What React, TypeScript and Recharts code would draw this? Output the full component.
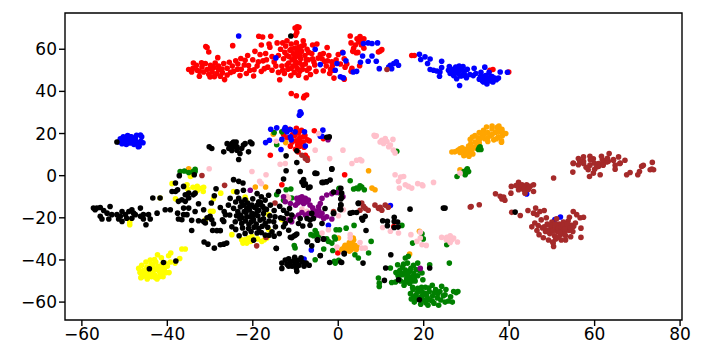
import { ScatterChart, Scatter, XAxis, YAxis, ReferenceArea } from 'recharts';

type Pair = [number, number];

const xTicks = [-60, -40, -20, 0, 20, 40, 60, 80];
const yTicks = [-60, -40, -20, 0, 20, 40, 60];

const redPoints: Pair[] = [
  [-35,50.4],[-34.3,49.2],[-33.9,53.5],[-33.2,52.4],[-32.5,47.2],[-31.9,51.6],[-31.5,49.2],[-31.1,53.2],[-30.7,50.4],[-30.3,48.1],
  [-29.9,52.4],[-29.5,49.2],[-29.1,51.3],[-28.8,53.5],[-28.4,48.5],[-28,50.4],[-27.6,47.2],[-26.8,53.2],[-26.6,45.6],[-27.1,48.8],
  [-28.2,56],[-30.7,60.8],[-30.3,58.7],[-31,61.3],[-24.7,61.7],[-26,51],[-25.2,49],[-24.8,52],[-24,54.5],[-23.6,50.5],[-23,47.5],
  [-22.8,55.6],[-22,52.5],[-21.5,48.5],[-21.2,57],[-20.7,50],[-20,55],[-19.8,47.3],[-19.5,59],[-19,52],[-18.3,57.5],[-18,49.5],
  [-17.6,54.5],[-17,58],[-16.5,51.5],[-18.6,66.2],[-18,62],[-17.7,65.8],[-15.8,66.2],[-16.2,62.5],[-16,61],[-15.5,50],[-15,54],
  [-14.6,52],[-14,49],[-14,57],[-13.5,60],[-13,63],[-13.7,45.5],[-14.3,63],[-13.2,52],[-12.8,55.5],[-12.6,48.5],[-12.5,58.5],
  [-12.3,61.5],[-12,64],[-11.8,50.5],[-11.6,53.5],[-11.5,56.5],[-11.3,59.5],[-11.1,47.5],[-11,62.5],[-10.8,55],[-10.6,52],
  [-10.5,58],[-10.3,49],[-10.2,60.5],[-10,54],[-9.9,56.5],[-9.8,63],[-9.6,51],[-9.5,58.5],[-9.3,47.7],[-9.2,61],[-9,53.5],
  [-8.8,55.5],[-8.6,59],[-8.4,50.5],[-8.2,64],[-8,62],[-7.8,57],[-7.7,53],[-7.5,46.5],[-7.3,60],[-7,55],[-6.8,51],[-6.5,48],
  [-6.2,58],[-6,62],[-5.7,54],[-5.2,49.5],[-5,62.5],[-9.6,70.6],[-10.1,70.1],[-9.2,70.4],[-10,66.6],[-9.7,68],
  [-4.2,57.5],[-3.8,55.5],[-3.5,58],[-3.2,54.3],[-2.8,52],[-2.6,60.8],[-2.2,57],[-2,48.5],[-1.8,50.5],[-1.4,52],[-1.2,50],
  [-1,46.3],[-0.5,55],[0,57.5],[0.5,53],[1,58.5],[1.4,55.5],[1.6,51.5],[1.4,45.8],[2,53],[3,49.5],[3.2,51],
  [2.8,66.3],[3,63],[3.6,60.5],[4,62],[4.4,65],[4.8,63.5],[5.1,66],[5.5,64],[6,65],[5.4,62],[4.6,58.5],[3.4,59],[4.2,58.3],
  [6,60.5],[5,52.2],[9.4,58.7],[10.2,59.8],[9.8,59.2],[17.2,57],[17.8,57],[35.5,50],[36.2,50.4],[39.9,49.2],
  [-11,39],[-9.8,37.9],[-8.1,37],[-7.4,38.3],[-7.9,37.8],[-15.9,9.7],[-5.6,21.3],[-3.5,17.6],[-7.7,9.7],[-7.3,8.5],
  [-12.8,19.5],[-12,18],[-11.4,22],[-10.8,16],[-10.2,19],[-9.8,22.5],[-9.5,14.5],[-9,18],[-8.6,21.5],[-8.2,16],[-7.8,19],
  [-7.2,17],[-6.8,16.5],[-10,12.5],[-9.4,11.2],[-11.2,14],[-9,14],[-8,13.5],[-12.5,21],[1.5,0.4],[-13.2,-4.3],[-0.1,-36.7],[13,-24.2],
];

const redCore: Pair[] = [
  [-34,51],[-33,50],[-32.5,49.5],[-32,53.6],[-30,50.8],[-30,46.8],[-29,47],[-28,52],[-27.2,50.6],[-26,47.8],[-25.5,53.8],
  [-24.5,49.5],[-23.5,53],[-22.7,50.5],[-21.8,54.8],[-21,52.3],[-19.7,50.3],[-18.7,54],[-17.3,50.8],[-16.8,55],[-15.5,56.5],
  [-13,50],[-12,52.5],[-12,57],[-11,51],[-11,60],[-10.2,56],[-10,52.3],[-9.5,60],[-9,49.5],[-9,57],[-8.4,52.5],[-8.5,61.5],
  [-7.5,55],[-7.3,50],[-6.9,58.5],[-6,55.5],[-5.5,52.5],[-4.7,55.8],[-2.5,54.5],[-1.5,54],[-3.5,49.8],[-10.7,19.5],[-9.8,16.5],[-9.3,20.3],[-8.8,16],[-8.2,18.5],
];

const orangePoints: Pair[] = [
  [26.6,11.2],[27.3,11.3],[28,12],[28.5,11],[29,13.2],[29.4,9.5],[30,12.5],[30.2,10.5],[30.6,9.2],[31,12],[31.5,10.3],[31.7,13.5],
  [28.5,12.8],[29.7,11.4],[30.5,14],[31,15],[30.9,17.2],[31.4,18.3],[32,16],[32.5,14.7],[32.7,18],[33,20.5],[33,15.5],[33.7,19],
  [34,21.5],[34.3,17.5],[34.7,23.1],[35,20.5],[35,16.2],[35.6,19],[36,22.2],[36,23.5],[36.4,17],[36.8,20.5],[37.2,23],[37.5,18.5],
  [37.8,21],[37.6,23.5],[38.2,16.5],[38.3,22],[38.4,19],[38.5,20.5],[39.2,20],[38.2,15.9],[33.5,18],[32.2,13],
  [-35,3.3],[-19.4,-5.4],[-17,-5.4],[-15.2,19.7],[-12.3,15.7],[7.1,2.3],[7.9,-5.9],[8.6,-6.7],[16.7,-37.2],[28.5,2.8],[19,-26.4],
  [0.8,-35],[1.4,-34],[1.8,-35.5],[2.2,-33],[2.6,-35.8],[3,-32],[3.2,-34.5],[3.6,-30.5],[3.9,-33],[4.2,-35],[4.5,-34],[2.6,-31.8],[3.5,-29.6],[0.05,-29.6],
  [29.3,12],[31,13.5],[32,19],[33,17],[34.2,19.8],[35,18],[36,19.5],[37,17.5],[37.4,22],[31.2,11.5],[29.8,10],[2.5,-34],[3.4,-32.7],[1.6,-33],[3,-35.2],
];

const yellowPoints: Pair[] = [
  [-46.7,-44],[-46.4,-46],[-46.2,-48.4],[-46,-42.5],[-45.6,-45],[-45.4,-47],[-45,-41],[-44.8,-43.5],[-44.7,-49],[-44.3,-46.5],
  [-44,-40],[-43.8,-42],[-43.7,-48],[-43.3,-44.5],[-43,-47],[-42.7,-41],[-42.4,-49],[-42.2,-43],[-42,-45],[-41.7,-46.5],[-41.4,-39],
  [-41.2,-42],[-41,-48],[-40.7,-44],[-40.3,-46],[-40,-43],[-39.6,-46],[-39.3,-41],[-42.3,-37.5],[-39.7,-38],[-39.2,-36.7],
  [-36.6,-34.8],[-35.8,-34.8],[-37.1,-39.3],[-38.2,-41.5],[-35.4,-4.3],[-34,-5.5],[-33,-5],[-32,-6],[-31.5,-5.5],[-31.6,-7.5],
  [-33,-7],[-35.2,-6.5],[-38.9,-3.8],[-34.6,-0.4],[-48.8,-23.3],[-48.8,-22],[-41.7,-10.6],[-38.1,-11],[-29.3,-16.9],[-29.9,-16.9],
  [-27.5,-8.3],[-29.2,-11],[-24.5,-7.5],[-21.6,-11.4],[-21.8,-10.2],[-16.3,-18.5],[-31.1,-21],[-22.3,-32],[-21.8,-30.4],[-21,-29.6],
  [-20.5,-31.2],[-21.4,-32],[-22.6,-30.4],[-18.9,-30],[-17.9,-31.2],[-17.3,-30.4],[-16.7,-29.6],[-20.2,-28.8],[-13.2,-20.9],[-16.3,-25.6],[-24.9,-28],
  [-45.8,-48],[-45,-45.5],[-44.8,-47.7],[-44.5,-44],[-43.5,-46],[-43.4,-42.5],[-42.7,-44.5],[-42.8,-48.3],[-41.8,-47.8],[-41.5,-44],[-41.3,-45.5],[-40.8,-45.8],[-40.5,-41.5],[-43,-39.8],
];

const greenPoints: Pair[] = [
  [-37,2],[-36,2.2],[-35,1.5],[-34,2],[-33.5,3],[-33.5,2],[-14.4,-9],[-12.2,-6.7],[-11.1,-6.3],[-12.8,-11.7],[-10.9,-10.6],
  [2.8,-2.4],[3.6,-6.3],[4.3,-5.9],[5.1,-4.8],[5.5,-5.4],[6.1,-6.7],[4.7,-6.2],[0.2,-6],[0.4,-8.2],[0.2,-6.4],
  [0.3,-25.7],[-0.5,-25.7],[1.85,-24.9],[3.7,-23.6],[-5.4,-26],[-5,-27.5],[-6.4,-28],[-5.8,-28.5],[-4.6,-28.5],[-2.7,-30],[-2.3,-31.2],
  [-1.5,-32],[-0.9,-29.1],[-0.7,-30],[-10.3,-33.2],[-10.1,-34.3],[-3.4,-34.8],[-1.3,-35.5],[-5.4,-39.9],[0.1,-40.2],[-0.7,-41.5],[-0.9,-40.7],
  [3.9,-37.5],[4.7,-39.1],[7.1,-36.7],[7.7,-31.2],[9.4,-48.6],[9.6,-51],[9.6,-52.6],[12.2,-43.8],[12.5,-50.7],[15.7,-39.1],[16.4,-38.3],
  [18.6,-41.5],[13.9,-42.3],[21.4,-42.3],[26,-41.5],[19.6,-46.2],[19.8,-49.4],[13.4,-50.5],[13.5,-46],[14,-47.5],[14.4,-45],[14.6,-50],[15,-43.5],
  [15.1,-47],[15.4,-52],[15.7,-44.8],[16,-49],[16.2,-41.5],[16.4,-46],[16.7,-51],[17,-44],[17.1,-48],[17.4,-53],[17.6,-42.5],[17.7,-46.5],
  [18,-50],[18.2,-44.5],[18.6,-47.5],[19,-45],[16.9,-56],[17.1,-58.5],[17.5,-54],[17.8,-60],[18.2,-56.5],[18.6,-53.5],[19,-58],[19.3,-61],
  [19.6,-55],[20,-59],[20.4,-53],[20.7,-57],[21,-61.5],[21.3,-55],[21.5,-59],[22,-52],[22.1,-57],[22.4,-60.5],[22.8,-54],[23.2,-58],
  [23.5,-61.5],[23.8,-55],[24.2,-52.5],[24.6,-57],[25,-60],[25.2,-54],[25.8,-59.5],[26.3,-57.5],[26.7,-60],[27,-55],[27.6,-55.5],[28,-55],
  [30.1,2.8],[29.9,1.3],[29.4,2],[30.5,2],[27.8,-0.4],[30.2,3.3],[29.7,0.4],[33,13.2],[32.8,12.4],[33.4,12.4],[33.2,13.7],[13.7,11.6],
  [14.9,-23.6],[19.6,-27.6],[17.4,-32],[19.9,-30],[25.4,-32.8],[-15,20.5],[-13.2,20.8],[-14.4,14.7],
  [14.8,-46.5],[15.6,-46],[16.2,-47.5],[16.8,-45.3],[16.5,-49.5],[17.3,-50],[15.7,-50.5],[14.2,-49],[17.8,-48.5],[15.3,-42],[18.6,-55.2],[19.6,-57],[20.3,-55.8],
  [21,-58.3],[21.2,-53.3],[22,-59.5],[22.5,-55.5],[23.3,-56],[24,-59],[19.5,-53],[18.2,-58.8],[20.5,-60.3],[17.6,-57.5],[25,-56.5],
];

const bluePoints: Pair[] = [
  [-51.4,16],[-51,17.5],[-50.6,15.2],[-50.3,18.4],[-50,16.4],[-49.6,14.8],[-49.3,19],[-49,17],[-48.7,15.5],[-48.4,18.5],[-48.1,16],[-47.8,14.8],
  [-47.5,17.5],[-47.2,19.2],[-46.9,15.5],[-46.6,14],[-46.2,16.3],[-46,18.5],[-46.8,13.7],[-45.7,15.6],[-46.3,19.3],[-23.3,66.3],
  [-14.6,55.9],[-5.4,60],[-4.2,52.7],[1.1,58.3],[-0.3,53.2],[-0.7,50],[1.8,54.5],[0.5,46.9],[1.2,46.4],[3.5,49.2],[4.3,49.5],[5.2,53.8],
  [7,54.3],[5.7,56.8],[5.9,62.7],[7,63],[7.9,62.7],[9.2,63],[7.9,56.8],[8.9,54.3],[9.6,50.8],[12.2,52.4],[13,53.2],[13.6,54],[14.1,52.4],[12.5,50.8],[11.8,51.6],
  [19,57.6],[19.3,55.1],[20.3,56.4],[21.5,55.4],[20.9,53.2],[21.5,50.4],[24.2,54.3],[22.3,50],[23.1,49.7],[24.2,51.3],[23.8,49.2],[23.7,47.2],
  [25.8,50],[26,51.8],[26.2,48.5],[26.6,50.5],[27,47.5],[27.2,49.8],[27.5,51.5],[27.7,46],[28,48.5],[28.3,52],[28.4,42.8],[28.6,50],[29,47.5],
  [29.2,51.8],[29.5,49.5],[30,46.5],[30.2,50.5],[30.8,48],[31.6,47.5],[31.8,51],[32.2,48.5],[33,45.8],[33.3,47],[33.7,45],[34,44.5],[34.3,51.5],
  [34.5,47.5],[34.8,43.5],[35,46],[35.3,49],[35.6,45],[36,47],[36.2,44.5],[36.6,46.3],[37,45.5],[37.5,46.3],[37.9,49.2],[39.6,49.1],
  [-8.9,30.3],[-8.7,29.5],[-9.1,28.7],[-15.8,22],[-14.4,22.7],[-17,15.7],[-16.1,16.8],[-13.4,12.4],[-12.4,22.8],[-11.2,21.9],[-12.6,21.9],[-12,20.8],
  [-11.2,18.4],[-11,17],[-13.2,17.2],[-10.1,20.8],[-7.9,20.8],[-7.7,14.1],[-3.6,21.6],[-3.8,18.7],[-4.2,18.7],[-2.3,-23.5],[-6.3,-35.3],[-8,-39.6],
  [12.2,-14.2],[44.1,-8.7],[50.7,-20.8],[52,-19.6],
  [-50.8,16.5],[-49.8,18],[-48.9,18.6],[-48,17.3],[-47.2,15.9],[26.8,49],[27.9,50.5],[28.6,47.3],[29.6,47.8],[33.8,46.8],[34.6,45.3],[35.6,46.8],[36.3,45.8],[33.4,49],
];

const pinkPoints: Pair[] = [
  [8.9,18.9],[8.4,19.2],[10.2,16.8],[11,17.6],[10.6,15.3],[11.4,16.2],[12.8,17.2],[11.8,13.7],[12.2,14.5],[12.9,12.1],[13.3,10.8],[9.8,16],
  [-5.4,12.1],[1.1,12.1],[-2,8.1],[3.2,5.8],[4.3,7.3],[5.1,7.7],[5.5,7.1],[-13.6,5.4],[-12.4,5.8],[-14.5,16.3],[-4.6,20],[8.6,18.7],
  [-30.2,3.3],[-20.2,2],[-16.9,0.4],[-18.4,-2.7],[-18,-3.8],[-12,-9.8],[-11.6,-10.6],[-8.5,-15.9],[-7.3,-16.9],[-12,-20.6],[1.2,-16.2],[0.05,-19],
  [-3.8,-27.2],[-2.3,-25.7],[2.8,-28],[2.8,-29.6],[5.1,-31.7],[5.5,-34.4],[6.3,-34.4],[-0.3,-33.9],
  [13.3,0.4],[15.3,-0.4],[14.6,-0.7],[14.1,-2.7],[15.7,-4.3],[16.4,-5.1],[17.2,-5.9],[14.3,-5.9],[18.6,-3.8],[19.6,-4.3],[19.8,-4.8],[22.3,-3.2],
  [10.4,-24.6],[12.2,-26.4],[14.1,-27.2],[17,-28],[19.2,-29.6],[18.4,-31.2],[19.6,-32.8],[20.6,-33.1],[19.2,-26.8],
  [24.2,-29.3],[25.4,-29.2],[26.2,-28.5],[25.8,-30.4],[26.6,-30.4],[27,-29.6],[27.9,-31.5],[25.3,-30.4],[26.2,-31.7],[28.5,1.2],
];

const brownPoints: Pair[] = [
  [-31.9,0.1],[-26.6,-4.6],[-19.1,-33.3],[-16.9,-29.3],[-14.8,-13],[-1.1,-17],[5.5,-13],[5.9,-14.5],[5.1,-16.4],[7,-16.4],[6.3,-15.5],
  [8.6,-14],[9.8,-15],[9.4,-15.5],[11,-14],[10.2,-16.4],[11.7,-15],[-8.5,9.7],[-7.7,8.2],[-7.2,7.3],[11.4,50.4],[31.1,-14.6],[33,-13.8],[30.9,-14.9],
  [55,6],[56.2,5.2],[57.4,6.8],[58.5,2.8],[59.7,1.2],[60.9,4.4],[61.3,0.4],[58.8,-0.4],[54.9,1.7],[59.9,6],[62,6],[63.2,6.8],[64.8,3.1],[66,6],[64.4,7.6],
  [67.5,0.4],[68.3,1.5],[70.1,0.4],[70.5,2],[73.4,3.1],[73,2.8],[73.8,2.8],[73.5,6.3],[71,4.4],[71.4,4.9],[55,5.8],[56.2,8.1],[57.4,8.9],[58.9,9.2],
  [59.7,8],[61.6,9.2],[63.4,10.5],[65.6,8.9],[67.1,7.3],[64.4,7.3],[62.8,6.5],[60.9,5.8],[58.9,5],[57.4,5.8],[65.9,5.8],[64.8,5],[62,5],[60.5,4.2],
  [40.5,-5.1],[42.2,-3.2],[42.6,-5.1],[43.4,-6.7],[44.1,-4.3],[44.9,-5.1],[45.7,-4.3],[45.7,-7.5],[43.7,-8.3],[40.4,-8.3],[36.8,-8.6],[37.9,-9.8],
  [38.7,-10.2],[39,-11.7],[38.3,-11.1],[50.4,-1.1],[42.2,-6.7],[43,-4.3],[40.6,-17.4],[42.6,-18.9],[44.4,-16.5],[46.2,-15.4],[45.7,-17.8],[46.5,-18.5],
  [47.2,-17],[48.2,-16.5],[45.3,-24.3],[46,-22.5],[46.5,-26],[46.8,-23.7],[47,-28],[47.5,-21],[47.8,-24.8],[48,-29.5],[48.5,-26.5],[48.7,-20],
  [48.9,-23],[49.2,-30.5],[49.5,-27.5],[49.8,-25],[50,-22],[50.2,-31.5],[50.4,-33.6],[50.3,-32],[50.6,-28.5],[50.9,-24.5],[51.1,-20.5],[51.3,-26.5],
  [51.7,-23],[52,-28],[52.2,-30.5],[52.4,-25.5],[52.7,-22],[53,-27],[53.2,-30.5],[53.4,-24.5],[53.8,-21.5],[54,-26],[54.4,-29],[54.6,-23.5],[54.9,-26.5],
  [55.1,-24],[55.5,-22.5],[54.1,-19.7],[55,-17],[55.8,-18.5],[56.6,-20],[57.4,-19.7],[56.8,-24.9],[56.8,-29.3],
  [49,-25.8],[49.7,-23.5],[50.2,-26.3],[50.8,-23],[50.9,-30],[51.5,-25],[51.8,-27],[52.1,-24],[52.6,-23.7],[53,-25.3],[53.6,-23],[54.3,-24.7],[53.2,-28.5],[48.2,-24.3],[51.5,-29.3],
  [59,7.5],[60,3],[61.8,7.6],[63,8.3],[58,4],[56.5,7],[43.6,-6],[44.5,-6.5],[41.6,-4.7],
];

const purplePoints: Pair[] = [
  [-20.6,-6.9],[-12.8,-10],[-12.4,-12.4],[-11.2,-13.2],[-9.7,-10.8],[-8.5,-10],[-7.7,-10.8],[-7,-11.6],[-8.9,-12.4],[-10,-14],[-8.1,-13.2],[-6.6,-14],
  [-5.8,-16.4],[-4.6,-16.4],[-3.8,-17.9],[-2.7,-19.5],[-1.5,-20.6],[-5,-18.7],[-6.9,-17.9],[-7.7,-18.7],[-9.3,-18.7],[-10.5,-19.5],[-11.6,-21.1],[-10.9,-21.9],
  [-4.2,-13.2],[-4.6,-14.8],[-3.8,-10.8],[-2.7,-9.2],[-1.5,-8.5],[-0.3,-8],[1.1,-10],[-5.8,-19.5],[-3.4,-20.3],[19.2,-44],[-2.4,17.1],
  [-9,-10.5],[-8.3,-11.8],[-7.4,-12.5],[-9.5,-13],[-6,-15.2],[-5.2,-17.3],[-4.2,-19],[-8.5,-17.5],
];

const blackPoints: Pair[] = [
  [-57.3,-15.4],[-56.5,-15.4],[-55.7,-15.1],[-56.9,-16.2],[-54.9,-16.5],[-53.4,-14.6],[-54.1,-17.8],[-55.7,-19.3],[-55.3,-20.6],[-53.7,-20.6],[-53,-18.5],
  [-51.8,-18.5],[-51.4,-20.6],[-50.6,-17],[-51,-19.3],[-49.8,-18.5],[-50.6,-21.7],[-49.5,-20.2],[-49,-17],[-48.3,-16.2],[-47.9,-17.8],[-48.3,-20.2],[-47.5,-18.5],
  [-46.3,-15.4],[-46.3,-19.3],[-45.6,-18.5],[-45.6,-20.6],[-45,-23.3],[-44.4,-18.5],[-44,-20.6],[-42.4,-17.8],[-43.4,-10.6],[-41.7,-10.6],[-40.5,-16.2],[-39.3,-16.2],
  [-37.2,0],[-38.1,-3.5],[-33.7,0.4],[-36.2,-5.1],[-37.6,-6.7],[-38.9,-7.5],[-38.1,-7.5],[-37.4,-12.2],[-35.8,-9.1],[-35,-8.3],[-33.9,-9.1],[-33.5,-8.3],[-36.6,-11.4],
  [-35.8,-12.2],[-35,-10.6],[-32.7,-13.3],[-36.2,-15.4],[-35,-15.4],[-37.6,-17.8],[-36.2,-18.5],[-35.4,-18.5],[-33.5,-17],[-31.5,-16.2],[-37.4,-20.6],[-36.6,-20.9],
  [-34.3,-21.2],[-32.7,-21.4],[-31.5,-21.7],[-31.1,-22.5],[-34.3,-26],[-30,-19.3],[-29.6,-20.9],[-30.7,-20],[-29.2,-22.8],[-27.1,-20.9],[-26.8,-21.7],[-26.4,-18.5],
  [-27.6,-15.1],[-26.7,-17],[-29.7,-13],[-29,-9.5],[-28.6,-6.2],[-29.4,-26],[-28.4,-26.1],[-27.6,-26.1],[-31.4,-31.5],[-30.5,-32.5],[-29,-34.4],[-27.6,-32.8],[-26.8,-32.5],[-26.1,-32],
  [-24.5,-1.9],[-23.3,-2.7],[-22.3,-3.5],[-25.3,-10.8],[-25.7,-14],[-25.4,-18.7],[-24.9,-24.3],[-24.5,-15.5],[-24.1,-21.9],[-23.7,-7.7],[-23.3,-10.8],[-22.9,-14.8],[-22.9,-18.7],
  [-22.6,-22.7],[-22.2,-6.9],[-21.8,-11.5],[-21.4,-15.6],[-21.4,-19.5],[-21,-25.1],[-20.2,-14],[-20.2,-17.9],[-19.8,-21.1],[-21.8,-27.4],[-23.2,-28.5],[-19.8,-30.6],[-19,-8.5],
  [-18.6,-12.4],[-18.6,-16.4],[-18.3,-21.1],[-18.6,-25.1],[-17.1,-28.2],[-17.1,-11.6],[-16.3,-9.3],[-15.9,-14],[-17.1,-22.7],[-15.5,-26.6],[-15.1,-21.9],[-14.7,-24.3],[-15,-16.5],
  [-14.8,-19.5],[-14.5,-34.6],[-12.8,-24.3],[-11.6,-25.9],[-12.8,-16.4],[-12,-17.9],[-10.9,-18.7],[-10,-28.2],[-10.9,-29.5],[-9.3,-22.7],[-11.4,-15.6],[-12.8,-20.3],[-11.2,-21.1],[-12.4,-22.7],
  [-24,-12.5],[-23.5,-17],[-23,-20.5],[-22.6,-12.5],[-22,-17],[-21.7,-21.5],[-21.2,-13],[-20.8,-16.2],[-20.6,-19.5],[-20.4,-22],[-20,-11],[-19.6,-15],[-19.4,-18.5],[-19.2,-23],
  [-18.9,-14],[-18.8,-19],[-18,-10],[-17.7,-14.5],[-17.5,-18],[-17.5,-20.5],[-16.8,-16],[-16.5,-24.5],[-16,-19],[-22.4,-24.8],[-24,-25.5],[-20.4,-26.5],[-19,-27.2],[-18,-27],
  [-16.2,-28.3],[-15,-28.7],[-13.8,-27.5],[-13.5,-20],[-13.7,-14.5],[-14,-7.5],
  [-12.2,2.3],[-8.9,2],[-5.4,1.2],[-5,1],[-3.5,-3.2],[-2.7,-2.9],[-8.1,-1.9],[-8.5,-3],[-7.7,-3.9],[-6.6,-5.4],[-12.8,-1.6],[-1.5,3.3],[-12.2,9.4],[-9.7,6.2],[-9.7,11.8],
  [-2.1,18.4],[-2.7,18.2],[-11.1,66.3],[-51.8,16],[-30.2,13.7],[-29.6,12.9],[-26.8,11.3],[-26,15.2],[-25.3,13.7],[-24.5,16],[-24.1,14.5],[-23.7,12.1],[-23,10.5],[-23.3,7.7],
  [-22.2,14.5],[-21.8,15.2],[-22.6,12.9],[-20.2,15.2],[-21,11.3],[-24.9,12],[-25.6,12.9],[-24.5,13.7],[-23.9,16],[-23.7,13.7],[-24.9,15.2],[-20.6,16],
  [0.6,-6],[0.8,-8.3],[-1.1,-7.8],[0.6,-11.1],[0.6,-13.8],[0.4,-15.9],[-1.1,-17.8],[2.8,-17.8],[4.3,-17.5],[3.4,-17.5],[4.7,-13],[6.3,-19.3],[5.5,-20.2],[6.5,-26],[5.8,-41.5],
  [1.4,-37.1],[0.6,-41],[-2,-41.2],[-4.2,-37.9],[-4.9,-30.4],[-3.5,-30],[-7.2,-31.2],[-6.2,-33.3],[-14.5,-34.5],[-11.2,-29.2],[-10.4,-28.6],[-9.7,-27.7],
  [-44.2,-44.2],[-40.9,-41.2],[-38,-40.5],[16.8,-15.9],[24.6,-15.4],[25,-15.4],[10.4,-21.4],[11.5,-21.7],[11.5,-23.8],[13.1,-19.7],[13.1,-21.7],[13.9,-22],[13.1,-24.6],[14,-24.4],
  [12.3,-37.5],[11.1,-43.8],[21.4,-43.8],[10.8,-49.7],[14.1,-49.4],[19,-58.9],[41.4,-17.3],
  [-5.4,1],[-1.5,3.1],[-1.9,-2.1],[-2.8,-2.9],[-3.8,-3.2],[-8.1,-4.5],[-7,-5.8],[0.8,-10.4],[0.6,-14],[0.6,-16.1],[4.7,-13.2],[5.7,-21.1],[-3.1,-15.6],[-1.1,-17.9],[-6.2,-17.9],
  [-7.3,-20.3],[-6.6,-21.1],[-5.8,-20.3],[-6.6,-23.5],[-3.8,-22.7],[-8.3,-23.9],[-8.9,-20.3],[-7.3,-31.4],[-4.8,-30.6],[-3.4,-30.1],[-4.2,-38],[1.4,-36.9],[0.8,-41.2],
  [-13.2,-41.5],[-12.4,-40],[-12,-42],[-11.6,-39.5],[-11.2,-41],[-10.8,-43],[-10.5,-40.5],[-10.2,-38.8],[-10,-42],[-9.8,-44],[-9.7,-45.4],[-9.4,-40.2],[-9.2,-42.5],[-8.7,-39],
  [-8.4,-41],[-8,-43],[-7.5,-41.5],[-6.8,-42.5],[-13.2,-44],[-11.6,-43],
  [-22.2,-14],[-21.6,-17.5],[-20.9,-14.7],[-20,-20.2],[-19,-16.8],[-18.2,-12.8],[-17.3,-15.7],[-17.8,-24],[-20.9,-23.2],[-19.7,-24.5],[-22.5,-20],[-23.8,-19],[-16.2,-21.5],
];

function toPoints(pairs: Pair[]) {
  return pairs.map(([x, y]) => ({ x, y }));
}

const tickStyle = { fontSize: 17, fontFamily: 'DejaVu Sans', fill: '#000' };
const formatTick = (v: number) => String(v).replace('-', '\u2212');

// default symbols come out too big, so draw the dots directly
const Dot = (props: any) => <circle cx={props.cx} cy={props.cy} r={2.8} fill={props.fill} />;

export default function App() {
  return (
    <div style={{ position: 'absolute', left: 0, top: 0 }}>
      <ScatterChart width={705} height={364} margin={{ top: 13, right: 23, bottom: 0, left: 0 }}>
        <XAxis
          type="number"
          dataKey="x"
          domain={[-63.95, 80.45]}
          ticks={xTicks}
          allowDataOverflow
          height={44}
          tickSize={6}
          axisLine={false}
          tick={tickStyle}
          tickLine={{ stroke: '#000', strokeWidth: 1.4 }}
          tickFormatter={formatTick}
        />
        <YAxis
          type="number"
          dataKey="y"
          domain={[-68.5, 77.2]}
          ticks={yTicks}
          allowDataOverflow
          width={65}
          tickSize={6}
          axisLine={false}
          tick={tickStyle}
          tickLine={{ stroke: '#000', strokeWidth: 1.4 }}
          tickFormatter={formatTick}
        />
        <Scatter data={toPoints([...redPoints, ...redCore])} fill="red" shape={Dot} isAnimationActive={false} />
        <Scatter data={toPoints(orangePoints)} fill="orange" shape={Dot} isAnimationActive={false} />
        <Scatter data={toPoints(yellowPoints)} fill="yellow" shape={Dot} isAnimationActive={false} />
        <Scatter data={toPoints(greenPoints)} fill="green" shape={Dot} isAnimationActive={false} />
        <Scatter data={toPoints(bluePoints)} fill="blue" shape={Dot} isAnimationActive={false} />
        <Scatter data={toPoints(pinkPoints)} fill="pink" shape={Dot} isAnimationActive={false} />
        <Scatter data={toPoints(brownPoints)} fill="brown" shape={Dot} isAnimationActive={false} />
        <Scatter data={toPoints(purplePoints)} fill="purple" shape={Dot} isAnimationActive={false} />
        <Scatter data={toPoints(blackPoints)} fill="black" shape={Dot} isAnimationActive={false} />
        <ReferenceArea
          x1={-63.95}
          x2={80.45}
          y1={-68.5}
          y2={77.2}
          fill="none"
          stroke="#000"
          strokeWidth={1.4}
          ifOverflow="visible"
        />
      </ScatterChart>
    </div>
  );
}
